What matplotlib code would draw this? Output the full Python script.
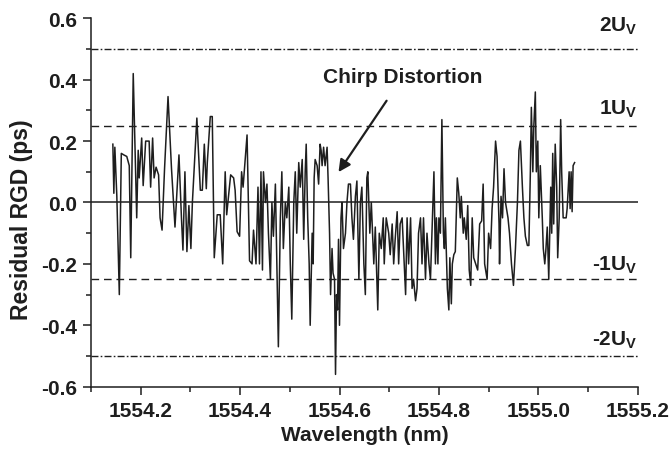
import numpy as np
import matplotlib
matplotlib.use('Agg')
import matplotlib.pyplot as plt
from matplotlib.ticker import MultipleLocator, FormatStrFormatter

# Residual RGD trace
wavelength = [
    1554.144, 1554.146, 1554.148, 1554.152, 1554.157, 1554.161, 1554.166, 1554.172, 1554.177, 1554.180,
    1554.185, 1554.192, 1554.195, 1554.197, 1554.202, 1554.205, 1554.210, 1554.217, 1554.220, 1554.224,
    1554.227, 1554.231, 1554.236, 1554.239, 1554.243, 1554.248, 1554.255, 1554.262, 1554.269, 1554.277,
    1554.282, 1554.285, 1554.289, 1554.293, 1554.297, 1554.301, 1554.304, 1554.313, 1554.320, 1554.324,
    1554.328, 1554.332, 1554.334, 1554.340, 1554.344, 1554.348, 1554.354, 1554.360, 1554.365, 1554.370,
    1554.373, 1554.381, 1554.387, 1554.390, 1554.394, 1554.399, 1554.403, 1554.406, 1554.414, 1554.417,
    1554.419, 1554.424, 1554.427, 1554.432, 1554.436, 1554.439, 1554.442, 1554.445, 1554.447, 1554.451,
    1554.454, 1554.457, 1554.461, 1554.464, 1554.467, 1554.471, 1554.474, 1554.477, 1554.481, 1554.484,
    1554.487, 1554.491, 1554.494, 1554.498, 1554.501, 1554.504, 1554.508, 1554.511, 1554.514, 1554.518,
    1554.521, 1554.525, 1554.528, 1554.531, 1554.533, 1554.536, 1554.539, 1554.541, 1554.545, 1554.547,
    1554.549, 1554.551, 1554.555, 1554.558, 1554.561, 1554.563, 1554.565, 1554.568, 1554.571, 1554.575,
    1554.577, 1554.580, 1554.582, 1554.585, 1554.587, 1554.590, 1554.592, 1554.594, 1554.596, 1554.598,
    1554.600, 1554.603, 1554.605, 1554.608, 1554.612, 1554.615, 1554.618, 1554.622, 1554.625, 1554.628,
    1554.632, 1554.635, 1554.639, 1554.642, 1554.645, 1554.649, 1554.652, 1554.655, 1554.657, 1554.661,
    1554.664, 1554.669, 1554.672, 1554.677, 1554.680, 1554.684, 1554.688, 1554.690, 1554.694, 1554.699,
    1554.702, 1554.706, 1554.709, 1554.712, 1554.716, 1554.719, 1554.722, 1554.726, 1554.729, 1554.733,
    1554.736, 1554.739, 1554.743, 1554.746, 1554.749, 1554.753, 1554.756, 1554.759, 1554.763, 1554.766,
    1554.769, 1554.773, 1554.776, 1554.780, 1554.783, 1554.786, 1554.790, 1554.793, 1554.795, 1554.798,
    1554.800, 1554.803, 1554.806, 1554.809, 1554.811, 1554.813, 1554.817, 1554.820, 1554.822, 1554.825,
    1554.827, 1554.830, 1554.833, 1554.837, 1554.840, 1554.843, 1554.845, 1554.849, 1554.851, 1554.855,
    1554.858, 1554.861, 1554.864, 1554.867, 1554.870, 1554.874, 1554.878, 1554.882, 1554.886, 1554.889,
    1554.892, 1554.897, 1554.900, 1554.904, 1554.907, 1554.910, 1554.914, 1554.917, 1554.921, 1554.922,
    1554.925, 1554.928, 1554.931, 1554.934, 1554.939, 1554.942, 1554.946, 1554.950, 1554.954, 1554.958,
    1554.961, 1554.964, 1554.968, 1554.971, 1554.974, 1554.978, 1554.981, 1554.984, 1554.986, 1554.989,
    1554.991, 1554.994, 1554.996, 1554.999, 1555.001, 1555.004, 1555.008, 1555.010, 1555.013, 1555.015,
    1555.018, 1555.021, 1555.025, 1555.027, 1555.029, 1555.031, 1555.034, 1555.037, 1555.039, 1555.042,
    1555.045, 1555.047, 1555.050, 1555.053, 1555.056, 1555.058, 1555.062, 1555.064, 1555.066, 1555.068,
    1555.070, 1555.073,
]
rgd = [
    0.19, 0.03, 0.18, 0.02, -0.30, 0.16, 0.155, 0.15, 0.12, -0.18,
    0.42, -0.05, 0.17, 0.08, 0.21, 0.055, 0.20, 0.20, 0.05, 0.21,
    0.08, 0.115, 0.09, -0.05, -0.09, 0.11, 0.345, 0.11, -0.08, 0.155,
    -0.05, -0.155, 0.10, -0.16, -0.01, -0.15, 0.00, 0.275, 0.04, 0.04,
    0.19, 0.045, 0.13, 0.28, 0.28, -0.18, -0.04, -0.04, -0.20, 0.10,
    -0.04, 0.09, 0.08, 0.04, -0.095, -0.11, 0.10, 0.05, 0.22, -0.02,
    -0.19, -0.20, -0.09, -0.20, 0.05, -0.20, 0.10, -0.22, 0.10, 0.00,
    0.06, -0.10, -0.25, 0.00, -0.11, 0.06, -0.20, -0.47, -0.05, 0.10,
    -0.15, 0.00, -0.05, 0.05, -0.20, -0.38, 0.00, 0.10, -0.10, 0.13,
    0.05, 0.14, -0.12, 0.10, 0.19, -0.05, -0.20, -0.40, -0.10, -0.20,
    0.08, 0.14, 0.12, 0.06, 0.19, 0.17, 0.12, 0.18, 0.12, 0.18,
    0.08, -0.10, -0.30, -0.15, -0.23, -0.25, -0.56, -0.30, -0.35, -0.12,
    -0.40, -0.05, 0.00, -0.15, -0.10, 0.00, 0.06, 0.06, -0.05, -0.12,
    0.02, 0.07, -0.25, 0.00, 0.05, -0.20, -0.30, 0.08, 0.10, -0.10,
    0.00, -0.20, -0.08, -0.35, -0.10, -0.15, -0.05, -0.20, -0.05, -0.10,
    -0.17, -0.07, -0.20, -0.12, -0.03, -0.20, -0.07, -0.05, -0.16, -0.30,
    -0.05, -0.20, -0.05, -0.28, -0.25, -0.32, -0.28, -0.10, -0.05, -0.20,
    -0.05, -0.25, -0.10, -0.20, -0.25, -0.10, 0.10, -0.20, -0.05, -0.20,
    -0.05, -0.10, 0.27, -0.10, -0.15, -0.05, -0.28, -0.35, -0.18, -0.33,
    -0.20, -0.17, -0.16, 0.08, 0.03, -0.05, 0.02, -0.10, -0.05, -0.12,
    -0.01, -0.22, -0.27, -0.05, -0.18, -0.20, -0.22, -0.07, -0.06, 0.06,
    -0.20, -0.25, -0.10, -0.15, -0.02, 0.05, 0.20, 0.15, -0.07, -0.20,
    0.02, -0.05, 0.11, 0.00, -0.05, -0.10, -0.20, -0.27, -0.15, 0.00,
    0.17, 0.20, 0.05, -0.05, -0.11, -0.14, -0.14, 0.10, 0.31, 0.10,
    0.25, 0.36, 0.10, 0.20, -0.05, 0.12, -0.05, -0.15, -0.20, -0.16,
    -0.08, -0.25, 0.05, -0.10, 0.16, -0.07, 0.19, 0.05, -0.18, -0.05,
    0.27, 0.10, -0.05, -0.05, -0.05, -0.02, 0.10, -0.02, 0.10, -0.03,
    0.12, 0.13,
]

# uncertainty levels (ps) and their labels
u_levels = [0.5, 0.25, -0.25, -0.5]
u_styles = ['dashdot', 'dashed', 'dashed', 'dashdot']
u_labels = ['2U$_\\mathrm{V}$', '1U$_\\mathrm{V}$', '-1U$_\\mathrm{V}$', '-2U$_\\mathrm{V}$']
u_label_y = [0.56, 0.29, -0.217, -0.461]

plt.rcParams['font.family'] = 'Liberation Sans'
plt.rcParams['font.weight'] = 'bold'
plt.rcParams['mathtext.fontset'] = 'custom'
plt.rcParams['mathtext.rm'] = 'Liberation Sans:bold'
plt.rcParams['axes.unicode_minus'] = False

fig = plt.figure(figsize=(6.71, 4.52), dpi=100)
ax = fig.add_axes([0.1356, 0.1423, 0.8148, 0.8150])

ink = '#1e1e1e'
ax.axhline(0, color=ink, lw=1.1)
for lvl, ls in zip(u_levels, u_styles):
    if ls == 'dashed':
        ax.axhline(lvl, color=ink, lw=1.0, linestyle=(0, (5.5, 3.5)))
    else:
        ax.axhline(lvl, color=ink, lw=1.0, linestyle=(0, (5, 1.6, 1.2, 1.6)))
for lab, ly in zip(u_labels, u_label_y):
    ax.text(1555.2, ly, lab, ha='right', va='baseline', fontsize=15,
            fontweight='bold', color=ink)

ax.plot(wavelength, rgd, color=ink, lw=1.1)

ax.annotate('Chirp Distortion', xy=(1554.598, 0.099), xytext=(1554.727, 0.409),
            ha='center', va='center', fontsize=15, fontweight='bold', color=ink,
            arrowprops=dict(arrowstyle='-|>', color=ink, lw=1.6,
                            mutation_scale=18, shrinkA=10, shrinkB=0))

ax.set_xlim(1554.1, 1555.2)
ax.set_ylim(-0.6, 0.6)
ax.xaxis.set_major_locator(MultipleLocator(0.2))
ax.xaxis.set_minor_locator(MultipleLocator(0.1))
ax.yaxis.set_major_locator(MultipleLocator(0.2))
ax.yaxis.set_minor_locator(MultipleLocator(0.1))
ax.xaxis.set_major_formatter(FormatStrFormatter('%.1f'))
ax.yaxis.set_major_formatter(FormatStrFormatter('%.1f'))
ax.tick_params(which='major', direction='out', length=6, width=1.1,
               labelsize=15, pad=4, color=ink, labelcolor=ink)
ax.tick_params(which='minor', direction='out', length=3.5, width=1.1, color=ink)
for lbl in ax.get_xticklabels() + ax.get_yticklabels():
    lbl.set_fontweight('bold')

for side in ['top', 'right']:
    ax.spines[side].set_visible(False)
for side in ['left', 'bottom']:
    ax.spines[side].set_linewidth(1.1)
    ax.spines[side].set_color(ink)

ax.set_xlabel('Wavelength (nm)', fontsize=15, fontweight='bold', color=ink)
ax.set_ylabel('Residual RGD (ps)', fontsize=16.5, fontweight='bold', color=ink)
ax.xaxis.set_label_coords(0.5, -0.105)
ax.yaxis.set_label_coords(-0.106, 0.457)

fig.savefig('out.png', dpi=100)
